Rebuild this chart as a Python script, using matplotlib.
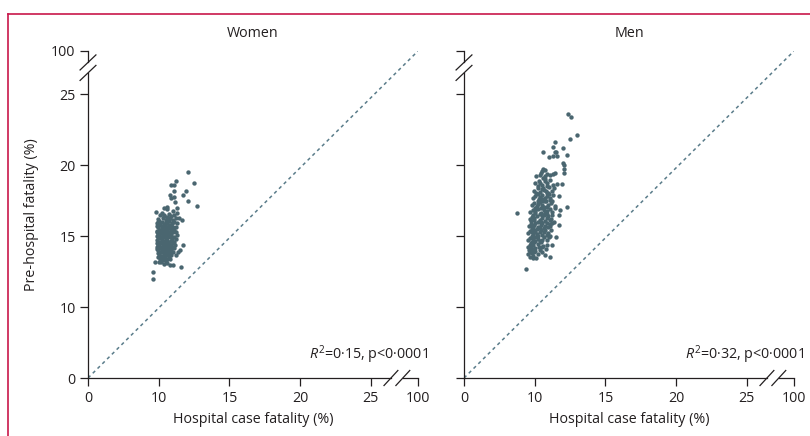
import numpy as np
import matplotlib.pyplot as plt
from matplotlib.lines import Line2D

plt.rcParams['font.family'] = ['Open Sans', 'DejaVu Sans']
plt.rcParams['mathtext.fontset'] = 'custom'
plt.rcParams['mathtext.rm'] = 'Open Sans'
plt.rcParams['mathtext.it'] = 'Open Sans:italic'

# ticks shared by both axes
tick_vals = [0, 10, 15, 20, 25, 100]
tick_labels = ['0', '10', '15', '20', '25', '100']

panels = ['Women', 'Men']
r2_labels = ['0·15', '0·32']

# (hospital case fatality %, pre-hospital fatality %)
women_upper = [(12.1, 19.5), (12.5, 18.7), (12.7, 17.1), (11.2, 18.9), (10.9, 18.6), (11.05, 18.6),
               (11.9, 18.2), (11.7, 17.9), (11.1, 18.2), (10.8, 17.9), (10.9, 17.7), (11.1, 17.75),
               (11.15, 17.4), (12.1, 17.5), (11.3, 17.0), (10.35, 17.0), (10.6, 17.05), (10.6, 16.9),
               (9.55, 16.7), (11.0, 16.75), (11.3, 16.6), (11.4, 16.25), (11.65, 16.15)]
women_lower = [(11.7, 14.4), (11.5, 14.0), (11.35, 13.85), (11.25, 13.65), (11.6, 12.8), (11.0, 12.95),
               (10.8, 12.95), (9.5, 13.2), (9.25, 12.5), (9.25, 12.0)]
women_core = [(10.1, 16.5), (10.4, 16.45), (10.7, 16.55), (10.9, 16.4), (10.2, 16.6), (11.1, 16.5),
              (9.9, 16.2), (10.3, 16.3), (10.5, 16.15), (10.8, 16.25), (11.0, 16.1), (10.6, 16.35),
              (11.2, 16.3), (10.0, 16.05), (9.8, 15.9), (10.2, 16.0), (10.4, 15.85), (10.6, 15.95),
              (10.9, 15.8), (11.1, 16.0), (10.7, 16.05), (10.1, 15.8), (11.3, 15.9), (9.9, 15.6),
              (10.3, 15.7), (10.5, 15.55), (10.7, 15.75), (11.0, 15.6), (10.2, 15.5), (10.85, 15.5),
              (11.2, 15.65), (10.45, 15.75), (9.7, 15.7), (9.8, 15.3), (10.1, 15.45), (10.35, 15.25),
              (10.6, 15.4), (10.8, 15.3), (11.05, 15.45), (10.0, 15.2), (10.5, 15.35), (11.25, 15.3),
              (10.7, 15.2), (9.7, 15.0), (10.0, 15.1), (10.25, 14.95), (10.45, 15.15), (10.65, 15.0),
              (10.9, 15.1), (11.1, 14.95), (10.15, 15.2), (10.75, 15.15), (11.3, 15.05), (10.55, 14.9),
              (9.8, 14.7), (10.1, 14.85), (10.3, 14.65), (10.5, 14.8), (10.7, 14.6), (10.95, 14.75),
              (11.2, 14.8), (10.0, 14.6), (10.6, 14.9), (10.85, 14.65), (10.4, 14.9), (9.9, 14.4),
              (10.2, 14.5), (10.4, 14.35), (10.6, 14.55), (10.8, 14.4), (11.0, 14.5), (10.05, 14.3),
              (10.5, 14.45), (11.15, 14.35), (10.7, 14.3), (9.7, 14.5), (9.8, 14.1), (10.1, 14.2),
              (10.3, 14.05), (10.5, 14.25), (10.75, 14.1), (10.95, 14.2), (10.2, 14.0), (10.6, 14.0),
              (11.1, 14.15), (10.4, 14.15), (9.9, 13.8), (10.15, 13.9), (10.35, 13.75), (10.55, 13.95),
              (10.8, 13.8), (11.0, 13.9), (10.0, 13.7), (10.65, 13.7), (10.25, 13.95), (9.9, 13.5),
              (10.2, 13.6), (10.45, 13.45), (10.7, 13.55), (10.9, 13.65), (10.1, 13.4), (10.55, 13.65),
              (10.0, 13.2), (10.3, 13.3), (10.6, 13.1), (10.8, 13.35), (10.4, 13.0), (10.15, 13.15),
              (10.35, 16.4), (10.75, 16.2), (10.05, 15.95), (10.55, 16.0), (10.95, 15.9), (10.25, 15.65),
              (10.6, 15.65), (10.9, 15.7), (10.05, 15.45), (10.4, 15.45), (10.9, 15.4), (9.85, 15.15),
              (10.3, 15.1), (10.6, 15.15), (11.0, 15.25), (10.15, 14.95), (10.4, 15.0), (10.8, 14.95),
              (9.9, 14.9), (10.25, 14.75), (10.6, 14.7), (10.9, 14.9), (11.05, 14.6), (10.15, 14.6),
              (10.35, 14.5), (10.7, 14.5), (10.9, 14.3), (10.0, 14.4), (10.3, 14.3), (10.55, 14.15),
              (10.85, 14.0), (10.25, 14.15), (9.95, 14.0), (10.45, 13.85), (10.7, 13.9), (10.1, 13.6),
              (10.35, 13.55), (10.6, 13.4), (10.5, 13.25), (10.2, 13.35), (10.75, 15.55), (10.15, 15.3),
              (10.5, 15.55), (10.8, 15.05), (10.45, 14.6), (10.65, 14.25), (10.05, 14.15), (9.75, 14.25),
              (9.75, 15.35), (9.85, 16.0)]

men_upper = [(12.35, 23.6), (12.6, 23.4), (13.0, 22.1), (12.5, 21.8), (11.4, 21.6), (12.0, 21.2),
             (11.3, 21.25), (10.6, 20.9), (11.45, 20.95), (11.5, 20.9), (12.3, 20.7), (11.0, 20.55),
             (11.3, 20.6), (11.55, 20.6), (12.0, 20.15), (12.05, 20.0), (12.1, 19.75), (12.1, 19.45),
             (10.6, 19.75), (10.75, 19.65), (10.5, 19.6), (11.6, 18.65), (11.9, 18.65), (11.75, 17.85),
             (12.3, 17.05), (11.8, 16.8), (11.7, 16.5), (11.75, 15.8), (11.5, 14.95), (11.2, 14.4),
             (7.5, 16.6)]
men_lower = [(9.8, 13.45), (10.1, 13.45), (11.05, 13.5), (8.8, 12.65)]
men_core = [(10.1, 19.2), (10.35, 19.3), (10.9, 19.35), (11.1, 19.3), (11.3, 19.4), (11.45, 19.45),
            (10.45, 19.45), (10.6, 19.1), (10.75, 19.25), (10.0, 18.7), (10.3, 18.9), (10.5, 18.6),
            (10.7, 18.85), (10.9, 18.7), (11.1, 18.95), (11.3, 18.6), (10.2, 18.5), (10.85, 18.5),
            (9.9, 18.2), (10.2, 18.35), (10.4, 18.1), (10.6, 18.4), (10.8, 18.2), (11.0, 18.45),
            (11.2, 18.15), (10.1, 18.0), (10.5, 18.3), (10.95, 18.05), (11.35, 18.35), (9.8, 17.7),
            (10.05, 17.85), (10.3, 17.6), (10.5, 17.9), (10.7, 17.65), (10.9, 17.8), (11.1, 17.55),
            (11.3, 17.9), (10.2, 17.5), (10.6, 17.5), (11.0, 17.95), (10.4, 17.75), (9.6, 17.2),
            (9.9, 17.35), (10.15, 17.1), (10.35, 17.4), (10.55, 17.2), (10.75, 17.45), (10.95, 17.15),
            (11.15, 17.35), (11.4, 17.1), (10.0, 17.0), (10.45, 17.0), (10.85, 17.05), (11.25, 17.45),
            (9.4, 16.7), (9.7, 16.85), (10.0, 16.6), (10.25, 16.9), (10.45, 16.65), (10.65, 16.8),
            (10.85, 16.55), (11.05, 16.9), (11.25, 16.7), (11.45, 16.95), (10.1, 16.95), (10.55, 16.5),
            (10.9, 16.75), (9.3, 16.2), (9.6, 16.35), (9.9, 16.1), (10.15, 16.4), (10.35, 16.15),
            (10.55, 16.3), (10.75, 16.05), (10.95, 16.4), (11.15, 16.2), (11.35, 16.0), (9.8, 16.45),
            (10.25, 16.0), (10.65, 16.45), (11.05, 16.1), (9.2, 15.7), (9.5, 15.85), (9.8, 15.6),
            (10.05, 15.9), (10.25, 15.65), (10.45, 15.8), (10.65, 15.55), (10.85, 15.9), (11.05, 15.7),
            (11.25, 15.95), (9.65, 15.5), (10.15, 15.5), (10.55, 15.95), (10.95, 15.6), (9.1, 15.2),
            (9.4, 15.35), (9.7, 15.1), (9.95, 15.4), (10.15, 15.15), (10.35, 15.3), (10.55, 15.05),
            (10.75, 15.45), (10.95, 15.2), (11.15, 15.4), (9.55, 15.0), (10.25, 15.0), (10.65, 15.25),
            (11.1, 15.0), (9.0, 14.7), (9.3, 14.85), (9.6, 14.6), (9.85, 14.9), (10.05, 14.65),
            (10.25, 14.8), (10.45, 14.55), (10.65, 14.9), (10.85, 14.7), (9.45, 14.5), (10.15, 14.95),
            (10.55, 14.75), (11.0, 14.95), (9.0, 14.2), (9.3, 14.4), (9.55, 14.1), (9.8, 14.35),
            (10.0, 14.15), (10.2, 14.45), (10.4, 14.05), (10.6, 14.3), (10.8, 14.1), (9.2, 14.0),
            (9.7, 14.0), (10.9, 14.4), (9.1, 13.7), (9.4, 13.9), (9.7, 13.6), (9.95, 13.85),
            (10.2, 13.75), (10.5, 13.9), (10.75, 13.65), (9.3, 13.55),
            (10.4, 18.75), (10.65, 18.25), (10.25, 17.95), (10.8, 17.45), (10.55, 17.6), (10.25, 17.25),
            (10.65, 17.05), (10.05, 16.75), (10.35, 16.55), (10.75, 16.65), (9.95, 16.3), (10.45, 16.0),
            (10.85, 16.25), (9.9, 15.75), (10.35, 15.55), (10.75, 15.7), (9.65, 15.25), (10.05, 15.25),
            (10.45, 15.45), (10.85, 15.05), (9.7, 14.8), (10.35, 14.65), (9.9, 14.55), (10.5, 14.2),
            (9.5, 14.25), (10.3, 14.25), (9.6, 13.8), (10.0, 13.95), (10.85, 18.0), (11.2, 16.45),
            (11.1, 15.85), (9.5, 16.05), (9.55, 15.65), (11.05, 17.7), (10.7, 19.0)]

women_pts = np.array(women_core + women_upper + women_lower)
men_pts = np.array(men_core + men_upper + men_lower)
points = [women_pts, men_pts]


def broken_scale(k):
    # 0-10 squeezed into one tick step, 10-25 linear, 25-100 squeezed after the break
    def fwd(v):
        v = np.asarray(v, dtype=float)
        return np.where(v <= 10, v / 10, np.where(v <= 25, 1 + (v - 10) / 5, 4 + (v - 25) / 75 * k))

    def inv(u):
        u = np.asarray(u, dtype=float)
        return np.where(u <= 1, u * 10, np.where(u <= 4, 10 + (u - 1) * 5, 25 + (u - 4) / k * 75))
    return fwd, inv


dot_col = '#4a6670'
axis_col = '#231f20'
frame_col = '#c8174a'
fs = 10.3

fig = plt.figure(figsize=(8.1, 4.36), dpi=100)
lefts = [88, 464]
W, H = 810, 436

for i in range(2):
    ax = fig.add_axes([lefts[i] / W, (H - 378) / H, 330 / W, 327 / H])
    ax.set_xscale('function', functions=broken_scale(0.667))
    ax.set_yscale('function', functions=broken_scale(0.606))
    ax.set_xlim(0, 100)
    ax.set_ylim(0, 100)

    ax.plot([0, 100], [0, 100], color='#5a7c8a', lw=1.1, ls=(0, (2.2, 2.2)))
    pts = points[i]
    ax.scatter(pts[:, 0], pts[:, 1], s=10, color=dot_col, linewidths=0, zorder=3)

    ax.set_xticks(tick_vals, tick_labels)
    ax.set_yticks(tick_vals, tick_labels if i == 0 else [''] * len(tick_vals))
    ax.minorticks_off()
    ax.tick_params(direction='out', length=6, width=0.9, color=axis_col,
                   labelsize=fs, labelcolor='#231f20', pad=3)
    for s in ax.spines.values():
        s.set_visible(False)

    # axis lines with break marks
    kw = dict(transform=ax.transAxes, color=axis_col, lw=0.9, clip_on=False)
    ax.plot([0, 0], [0, 0.933], **kw)
    ax.plot([0, 0], [0.965, 1], **kw)
    ax.plot([0, 0.918], [0, 0], **kw)
    ax.plot([0.954, 1], [0, 0], **kw)
    for c in (0.933, 0.965):
        ax.plot([-0.024, 0.024], [c - 0.023, c + 0.023], **kw)
    for c in (0.918, 0.954):
        ax.plot([c - 0.021, c + 0.021], [-0.023, 0.023], **kw)

    ax.set_xlabel('Hospital case fatality (%)', fontsize=fs, color='#231f20', labelpad=5)
    if i == 0:
        ax.set_ylabel('Pre-hospital fatality (%)', fontsize=fs, color='#231f20', labelpad=9)
    ax.text(1.03, 0.07, r'$\mathit{R}^2$=' + r2_labels[i] + ', p<0·0001', transform=ax.transAxes,
            ha='right', va='center', fontsize=fs, color='#231f20')
    ax.text(0.5, 1.052, panels[i], transform=ax.transAxes, ha='center', va='center',
            fontsize=fs, color='#231f20')

# page frame (top and left rules)
fig.add_artist(Line2D([8 / W, 1], [1 - 14 / H, 1 - 14 / H], transform=fig.transFigure,
                      color=frame_col, lw=1.2))
fig.add_artist(Line2D([8 / W, 8 / W], [0, 1 - 14 / H], transform=fig.transFigure,
                      color=frame_col, lw=1.2))

fig.savefig('out.png', dpi=100)
